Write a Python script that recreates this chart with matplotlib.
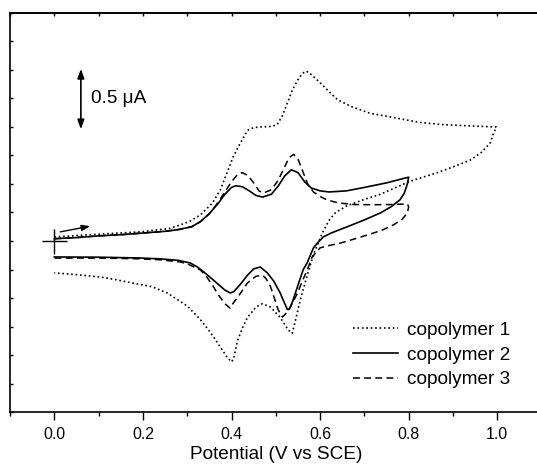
import matplotlib
matplotlib.use("Agg")
import matplotlib.pyplot as plt
from matplotlib.ticker import MultipleLocator, NullFormatter

plt.rcParams["font.family"] = ["Liberation Sans", "DejaVu Sans"]

# copolymer 1 (dotted): forward scan to 1.0 V then back
pot_1 = [0.0, 0.10, 0.194, 0.26, 0.284, 0.307, 0.33, 0.357, 0.375, 0.39,
         0.404, 0.42, 0.436, 0.45, 0.465, 0.49, 0.503, 0.515, 0.526, 0.537,
         0.549, 0.56, 0.569, 0.58, 0.594, 0.61, 0.623, 0.639, 0.67, 0.713,
         0.77, 0.826, 0.88, 0.939, 0.998,
         0.99, 0.984, 0.965, 0.939, 0.90, 0.865, 0.804, 0.736, 0.70, 0.661,
         0.635, 0.62, 0.605, 0.585, 0.571, 0.555, 0.543, 0.537, 0.528, 0.51,
         0.488, 0.47, 0.455, 0.436, 0.425, 0.413, 0.405, 0.400, 0.39, 0.38,
         0.368, 0.35, 0.33, 0.30, 0.255, 0.22, 0.178, 0.14, 0.104, 0.05, 0.0]
cur_1 = [0.035, 0.06, 0.08, 0.11, 0.14, 0.175, 0.23, 0.333, 0.45, 0.60,
         0.74, 0.86, 0.97, 0.995, 1.0, 1.005, 1.02, 1.10, 1.21, 1.32,
         1.41, 1.47, 1.49, 1.46, 1.41, 1.35, 1.30, 1.24, 1.18, 1.12,
         1.08, 1.04, 1.02, 1.01, 1.0,
         0.93, 0.86, 0.78, 0.71, 0.65, 0.60, 0.525, 0.41, 0.365, 0.31,
         0.25, 0.18, 0.07, -0.12, -0.30, -0.52, -0.72, -0.81, -0.78, -0.67,
         -0.58, -0.55, -0.58, -0.67, -0.76, -0.88, -1.03, -1.06, -1.02, -0.96,
         -0.89, -0.79, -0.69, -0.57, -0.456, -0.40, -0.37, -0.34, -0.316, -0.295, -0.28]

# copolymer 2 (solid): forward scan to 0.8 V then back
pot_2 = [0.0, 0.05, 0.10, 0.15, 0.20, 0.25, 0.28, 0.31, 0.33, 0.35,
         0.37, 0.385, 0.40, 0.41, 0.425, 0.44, 0.455, 0.47, 0.49, 0.505,
         0.52, 0.535, 0.55, 0.565, 0.58, 0.60, 0.62, 0.66, 0.70, 0.75, 0.80,
         0.797, 0.79, 0.78, 0.76, 0.736, 0.70, 0.66, 0.625, 0.607, 0.594,
         0.585, 0.571, 0.562, 0.549, 0.538, 0.530, 0.526, 0.518, 0.51, 0.495,
         0.481, 0.465, 0.45, 0.436, 0.42, 0.405, 0.397, 0.385, 0.37, 0.359,
         0.34, 0.323, 0.307, 0.28, 0.24, 0.194, 0.10, 0.0]
cur_2 = [0.02, 0.03, 0.045, 0.055, 0.07, 0.085, 0.10, 0.125, 0.17, 0.24,
         0.33, 0.41, 0.47, 0.485, 0.475, 0.44, 0.40, 0.385, 0.41, 0.48,
         0.57, 0.625, 0.60, 0.52, 0.465, 0.44, 0.43, 0.44, 0.47, 0.51, 0.56,
         0.50, 0.42, 0.36, 0.30, 0.246, 0.185, 0.123, 0.07, 0.035, -0.018,
         -0.06, -0.19, -0.25, -0.40, -0.53, -0.60, -0.60, -0.53, -0.456, -0.35,
         -0.28, -0.228, -0.245, -0.30, -0.38, -0.445, -0.456, -0.43, -0.38, -0.342,
         -0.28, -0.228, -0.193, -0.17, -0.157, -0.149, -0.142, -0.14]

# copolymer 3 (dashed): forward scan to 0.8 V then back
pot_3 = [0.0, 0.05, 0.10, 0.15, 0.20, 0.25, 0.28, 0.31, 0.33, 0.35,
         0.37, 0.385, 0.40, 0.413, 0.424, 0.437, 0.45, 0.462, 0.472, 0.49,
         0.505, 0.52, 0.53, 0.54, 0.55, 0.56, 0.572, 0.585, 0.60, 0.616,
         0.64, 0.675, 0.72, 0.76, 0.797,
         0.80, 0.797, 0.785, 0.765, 0.74, 0.707, 0.675, 0.646, 0.62, 0.60,
         0.582, 0.571, 0.56, 0.549, 0.533, 0.522, 0.515, 0.505, 0.495, 0.488,
         0.478, 0.47, 0.455, 0.436, 0.42, 0.404, 0.397, 0.385, 0.37, 0.359,
         0.345, 0.33, 0.30, 0.284, 0.24, 0.18, 0.10, 0.0]
cur_3 = [0.02, 0.03, 0.045, 0.055, 0.07, 0.085, 0.10, 0.125, 0.17, 0.24,
         0.34, 0.43, 0.52, 0.58, 0.60, 0.575, 0.51, 0.44, 0.42, 0.45,
         0.53, 0.65, 0.73, 0.76, 0.72, 0.62, 0.50, 0.43, 0.39, 0.36,
         0.335, 0.32, 0.318, 0.32, 0.325,
         0.30, 0.246, 0.19, 0.14, 0.095, 0.053, 0.015, -0.018, -0.04, -0.06,
         -0.14, -0.254, -0.35, -0.456, -0.58, -0.64, -0.667, -0.60, -0.48, -0.40,
         -0.33, -0.30, -0.31, -0.368, -0.46, -0.544, -0.59, -0.55, -0.47, -0.40,
         -0.32, -0.254, -0.20, -0.184, -0.165, -0.155, -0.15, -0.15]

labels = ["copolymer 1", "copolymer 2", "copolymer 3"]
x_ticks = [0.0, 0.2, 0.4, 0.6, 0.8, 1.0]

fig = plt.figure(figsize=(5.37, 4.69), dpi=100)
ax = fig.add_axes([10 / 537, 57 / 469, 531.6 / 537, 399 / 469])

ax.plot(pot_1, cur_1, color="black", lw=1.2, ls=":", label=labels[0])
ax.plot(pot_2, cur_2, color="black", lw=1.2, ls="-", label=labels[1])
ax.plot(pot_3, cur_3, color="black", lw=1.1, ls=(0, (4.5, 2.8)), label=labels[2])

# start point marker and scan direction arrow
ax.plot([0.0], [0.0], marker="+", color="black", markersize=18, mew=1.0)
ax.annotate("", xy=(0.081, 0.13), xytext=(0.0135, 0.08),
            arrowprops=dict(arrowstyle="-|>,head_length=0.5,head_width=0.18",
                            color="black", lw=1.0, shrinkA=0, shrinkB=0))

# current scale bar
ax.annotate("", xy=(0.060, 1.51), xytext=(0.060, 0.98),
            arrowprops=dict(arrowstyle="<|-|>,head_length=0.55,head_width=0.2",
                            color="black", lw=1.2, shrinkA=0, shrinkB=0))
ax.text(0.0835, 1.25, "0.5 \u03bcA", fontsize=13.7, va="center", ha="left")

ax.set_xlim(-0.1, 1.1)
ax.set_ylim(-1.5, 2.0)
ax.set_xticks(x_ticks)
ax.set_xticklabels([f"{t:.1f}" for t in x_ticks], fontsize=11.4)
ax.xaxis.set_minor_locator(MultipleLocator(0.1))
ax.tick_params(axis="x", which="major", direction="out", length=5.8, width=1.0, pad=5)
ax.tick_params(axis="x", which="minor", direction="out", length=3.0, width=1.0)
ax.yaxis.set_major_locator(MultipleLocator(0.25))
ax.yaxis.set_major_formatter(NullFormatter())
ax.tick_params(axis="y", which="major", direction="in", length=2.0, width=1.0)

top = ax.secondary_xaxis("top")
top.xaxis.set_major_locator(MultipleLocator(0.1))
top.xaxis.set_major_formatter(NullFormatter())
top.tick_params(direction="in", length=2.0, width=1.0)

for s in ax.spines.values():
    s.set_linewidth(1.2)
top.spines["top"].set_linewidth(1.2)

ax.set_xlabel("Potential (V vs SCE)", fontsize=13.7, labelpad=3)

ax.legend(loc="upper left", bbox_to_anchor=(0.645, 0.226), frameon=False,
          fontsize=13.7, handlelength=2.37, handletextpad=0.47,
          labelspacing=0.38, borderpad=0, borderaxespad=0)

fig.savefig("out.png", dpi=100)
